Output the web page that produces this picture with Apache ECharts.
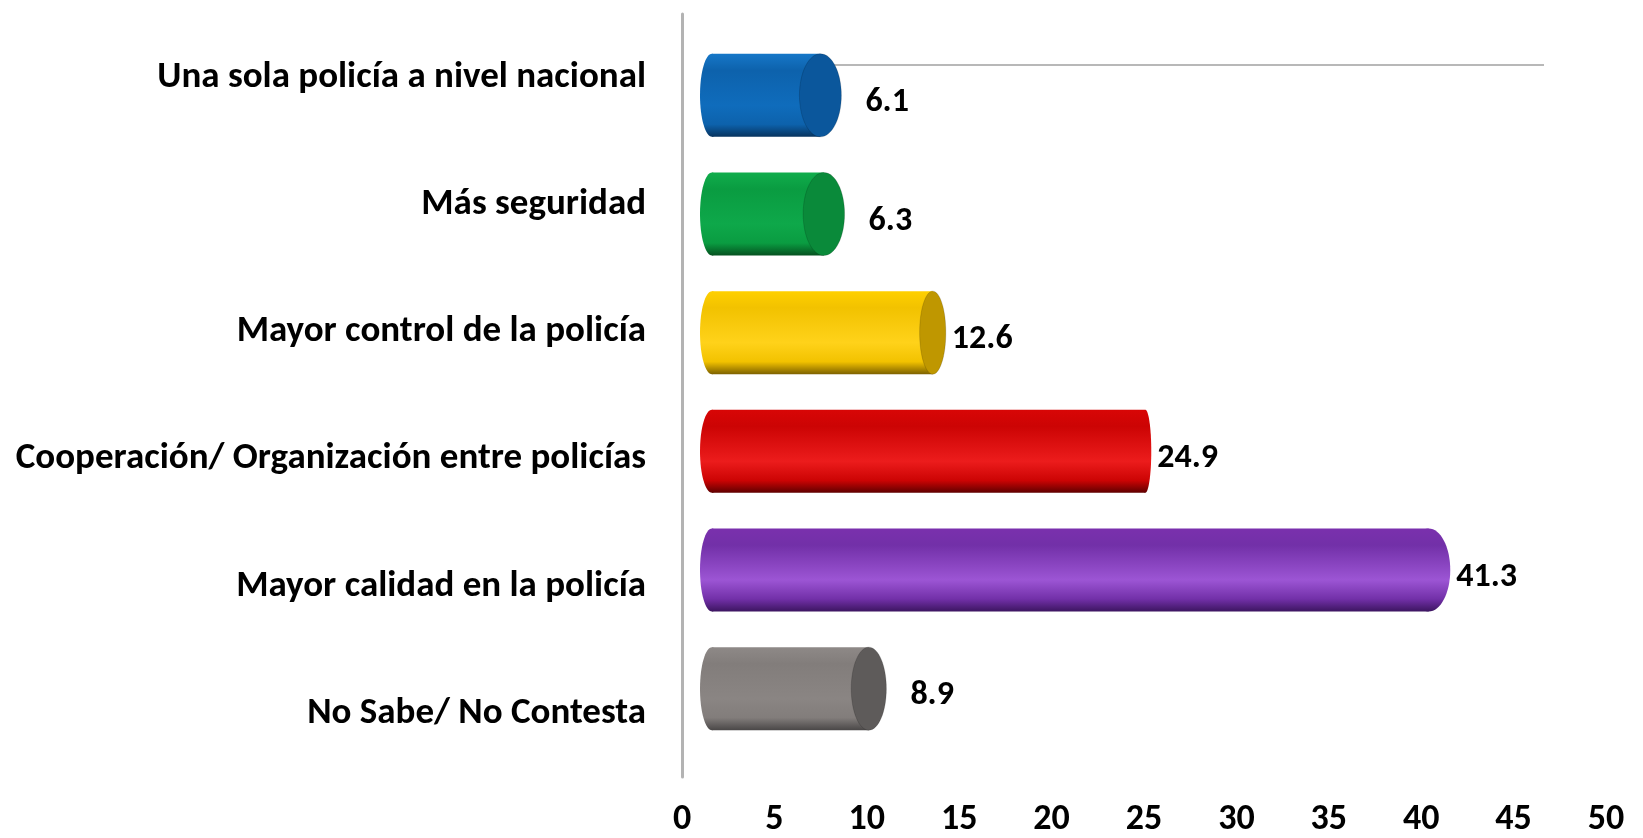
<!DOCTYPE html>
<html>
<head>
<meta charset="utf-8">
<script src="https://cdn.jsdelivr.net/npm/echarts@6/dist/echarts.min.js"></script>
<style>
  html, body { margin: 0; padding: 0; background: #fff; }
  #main { width: 1643px; height: 838px; }
</style>
</head>
<body>
<div id="main"></div>
<script>
  // categorías (de arriba a abajo) y porcentajes
  var categories = [
    'Una sola policía a nivel nacional',
    'Más seguridad',
    'Mayor control de la policía',
    'Cooperación/ Organización entre policías',
    'Mayor calidad en la policía',
    'No Sabe/ No Contesta'
  ];
  var values = [6.1, 6.3, 12.6, 24.9, 41.3, 8.9];
  var xMin = 0, xMax = 50, xStep = 5;

  // colores del cilindro: [arriba, medio, brillo, abajo, tapa]
  var barColors = [
    ['#1677c8', '#0d62ac', '#0f6cbc', '#07335e', '#0b579c'],
    ['#10ad4c', '#0a9c41', '#0ea84a', '#05511f', '#0a8a3a'],
    ['#ffd000', '#f2c200', '#ffd21a', '#7d6100', '#bf9700'],
    ['#d80606', '#cc0404', '#ec1c1c', '#5e0000', '#a00000'],
    ['#7a30ad', '#7230a8', '#9c55d4', '#3c1560', '#6a2a9c'],
    ['#8e8987', '#827d7b', '#8a8583', '#4a4747', '#5e5b5a']
  ];

  var FONT = 'Carlito, Lato, "Open Sans", sans-serif';

  function grad(c) {
    return {
      type: 'linear', x: 0, y: 0, x2: 0, y2: 1,
      colorStops: [
        { offset: 0, color: c[0] },
        { offset: 0.2, color: c[1] },
        { offset: 0.62, color: c[2] },
        { offset: 0.85, color: c[1] },
        { offset: 1, color: c[3] }
      ]
    };
  }

  function renderCylinder(params, api) {
    var v = api.value(0);
    var idx = api.value(1);
    var endPt = api.coord([v, idx]);
    var startPt = api.coord([0, idx]);
    var band = api.size([0, 1])[1];
    var h = band * 0.7;
    var cy = endPt[1];
    var x0 = startPt[0] - 15;
    var xe = endPt[0];
    var vx = 1120; // punto de fuga aproximado de la perspectiva
    var rxE = Math.max(6, Math.abs(xe - vx) * 0.07);
    var c = barColors[idx];
    var children = [
      { type: 'ellipse', shape: { cx: x0 + 12, cy: cy, rx: 12, ry: h / 2 }, style: { fill: grad(c) } },
      { type: 'rect', shape: { x: x0 + 12, y: cy - h / 2, width: xe - x0 - 12, height: h }, style: { fill: grad(c) } }
    ];
    if (xe < vx) {
      children.push({ type: 'ellipse', shape: { cx: xe, cy: cy, rx: rxE, ry: h / 2 },
        style: { fill: c[4], stroke: 'rgba(0,0,0,0.15)', lineWidth: 1 } });
    } else {
      children.push({ type: 'ellipse', shape: { cx: xe, cy: cy, rx: rxE, ry: h / 2 }, style: { fill: grad(c) } });
    }
    children.push({
      type: 'text',
      style: {
        x: xe + rxE + (xe < 900 ? 24 : 6), y: cy + 7,
        text: v.toFixed(1),
        fill: '#000', font: 'bold 34px ' + FONT,
        verticalAlign: 'middle', align: 'left'
      }
    });
    return { type: 'group', children: children };
  }

  var chart = echarts.init(document.getElementById('main'));
  chart.setOption({
    animation: false,
    backgroundColor: '#fff',
    grid: [
      { left: 682, right: 37, top: 14, bottom: 54 },
      { left: 715, right: 64, top: 36, bottom: 90 }
    ],
    xAxis: [
      {
        gridIndex: 0, type: 'value', min: xMin, max: xMax, interval: xStep,
        axisLine: { show: false }, axisTick: { show: false }, splitLine: { show: false },
        axisLabel: { margin: 25, color: '#000', fontWeight: 'bold', fontSize: 36, fontFamily: FONT }
      },
      { gridIndex: 1, type: 'value', min: xMin, max: xMax, show: false, splitLine: { show: false } }
    ],
    yAxis: [
      {
        gridIndex: 0, type: 'category', inverse: true, data: categories,
        axisLine: { show: true, lineStyle: { color: '#b3b3b3', width: 3 } },
        axisTick: { show: false },
        axisLabel: { margin: 36, color: '#000', fontWeight: 'bold', fontSize: 37, fontFamily: FONT }
      },
      { gridIndex: 1, type: 'category', inverse: true, data: categories, show: false }
    ],
    graphic: [
      { type: 'line', z: 0, shape: { x1: 760, y1: 65, x2: 1544, y2: 65 },
        style: { stroke: '#b8b8b8', lineWidth: 2 } }
    ],
    series: [
      {
        type: 'custom',
        xAxisIndex: 1, yAxisIndex: 1,
        renderItem: renderCylinder,
        encode: { x: 0, y: 1 },
        data: values.map(function (v, i) { return [v, i]; })
      }
    ]
  });
</script>
</body>
</html>
